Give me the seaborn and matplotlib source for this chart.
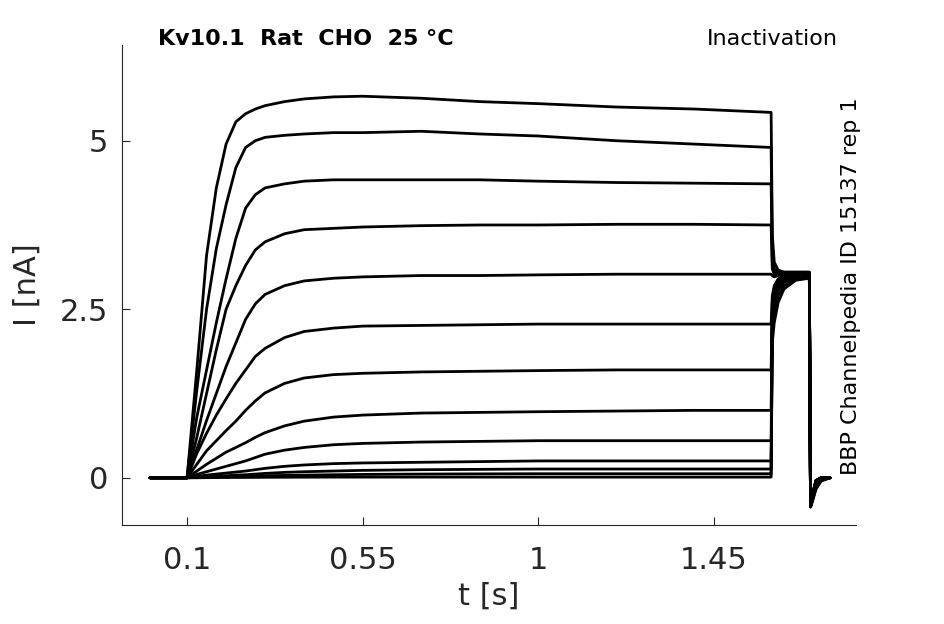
import numpy as np
import pandas as pd
import matplotlib
matplotlib.use("Agg")
import matplotlib.pyplot as plt
import seaborn as sns

# sample times (s)
t_test = [0.005, 0.1, 0.125, 0.15, 0.175, 0.2, 0.225, 0.25, 0.275, 0.3, 0.35, 0.4,
          0.475, 0.55, 0.7, 0.85, 1.0, 1.2, 1.4, 1.597]
t_step2 = [1.6, 1.605, 1.615, 1.63, 1.66, 1.695]
t_tail = [1.698, 1.703, 1.712, 1.725, 1.748]

# current (nA) during the test pulse, one row per sweep
test_na = [
    [0, 0, 1.6, 3.3, 4.3, 4.95, 5.28, 5.4, 5.47, 5.52, 5.58, 5.62, 5.65, 5.66, 5.63, 5.58, 5.55, 5.5, 5.47, 5.42],
    [0, 0, 1.3, 2.5, 3.4, 4.05, 4.6, 4.9, 5.0, 5.05, 5.08, 5.1, 5.12, 5.12, 5.14, 5.1, 5.07, 5.0, 4.95, 4.9],
    [0, 0, 0.9, 1.6, 2.3, 2.95, 3.55, 4.0, 4.2, 4.3, 4.36, 4.4, 4.42, 4.42, 4.42, 4.42, 4.4, 4.38, 4.37, 4.36],
    [0, 0, 0.6, 1.25, 1.9, 2.5, 2.85, 3.15, 3.38, 3.5, 3.62, 3.68, 3.7, 3.72, 3.74, 3.75, 3.75, 3.76, 3.76, 3.75],
    [0, 0, 0.42, 0.85, 1.25, 1.65, 2.0, 2.35, 2.58, 2.72, 2.85, 2.92, 2.96, 2.98, 3.0, 3.0, 3.01, 3.02, 3.02, 3.02],
    [0, 0, 0.36, 0.66, 0.93, 1.17, 1.4, 1.6, 1.8, 1.92, 2.08, 2.17, 2.22, 2.25, 2.26, 2.27, 2.28, 2.28, 2.28, 2.28],
    [0, 0, 0.2, 0.4, 0.55, 0.7, 0.84, 1.0, 1.14, 1.26, 1.4, 1.48, 1.53, 1.55, 1.57, 1.58, 1.59, 1.6, 1.6, 1.6],
    [0, 0, 0.1, 0.2, 0.29, 0.38, 0.45, 0.52, 0.6, 0.67, 0.77, 0.84, 0.9, 0.93, 0.96, 0.97, 0.98, 0.99, 1.0, 1.0],
    [0, 0, 0.05, 0.09, 0.13, 0.17, 0.21, 0.25, 0.3, 0.35, 0.41, 0.45, 0.49, 0.51, 0.53, 0.54, 0.55, 0.55, 0.55, 0.55],
    [0, 0, 0.02, 0.04, 0.055, 0.07, 0.085, 0.1, 0.12, 0.14, 0.17, 0.19, 0.21, 0.22, 0.23, 0.24, 0.25, 0.25, 0.25, 0.25],
    [0, 0, 0.01, 0.02, 0.025, 0.03, 0.04, 0.045, 0.055, 0.065, 0.08, 0.09, 0.1, 0.11, 0.12, 0.125, 0.13, 0.13, 0.13, 0.13],
    [0, 0, 0.005, 0.01, 0.012, 0.015, 0.018, 0.02, 0.025, 0.03, 0.035, 0.04, 0.045, 0.05, 0.055, 0.058, 0.06, 0.06, 0.06, 0.06],
    [0, 0, 0, 0.002, 0.003, 0.004, 0.005, 0.005, 0.006, 0.007, 0.008, 0.009, 0.01, 0.01, 0.01, 0.01, 0.01, 0.01, 0.01, 0.01],
]

# current (nA) during the second step
step2_na = [
    [3.6, 3.2, 3.08, 3.05, 3.05, 3.05],
    [3.4, 3.1, 3.05, 3.05, 3.05, 3.05],
    [3.2, 3.06, 3.04, 3.04, 3.04, 3.04],
    [3.1, 3.02, 3.02, 3.03, 3.03, 3.03],
    [3.0, 2.98, 3.0, 3.02, 3.02, 3.02],
    [2.7, 2.85, 2.95, 3.0, 3.02, 3.02],
    [2.6, 2.8, 2.92, 2.98, 3.0, 3.0],
    [2.5, 2.72, 2.88, 2.96, 3.0, 3.0],
    [2.45, 2.68, 2.85, 2.95, 2.99, 3.0],
    [2.4, 2.62, 2.82, 2.93, 2.98, 2.98],
    [2.35, 2.58, 2.78, 2.9, 2.97, 2.98],
    [2.2, 2.45, 2.7, 2.85, 2.95, 2.97],
    [2.0, 2.3, 2.6, 2.8, 2.93, 2.96],
]

# tail current (nA) after the step back
tail_na = [
    [-0.43, -0.25, -0.04, 0, 0],
    [-0.43, -0.25, -0.04, 0, 0],
    [-0.43, -0.25, -0.04, 0, 0],
    [-0.43, -0.25, -0.04, 0, 0],
    [-0.43, -0.26, -0.05, 0, 0],
    [-0.43, -0.26, -0.05, 0, 0],
    [-0.43, -0.27, -0.06, 0, 0],
    [-0.43, -0.28, -0.07, 0, 0],
    [-0.43, -0.29, -0.08, -0.01, 0],
    [-0.43, -0.3, -0.1, -0.02, 0],
    [-0.43, -0.32, -0.12, -0.03, 0],
    [-0.43, -0.34, -0.15, -0.04, 0],
    [-0.43, -0.35, -0.17, -0.05, 0],
]

x_ticks = [0.1, 0.55, 1, 1.45]
x_tick_labels = ["0.1", "0.55", "1", "1.45"]
y_ticks = [0, 2.5, 5]
y_tick_labels = ["0", "2.5", "5"]

t_all = t_test + t_step2 + t_tail
rows = []
for k in range(len(test_na)):
    i_all = test_na[k] + step2_na[k] + tail_na[k]
    for t, i in zip(t_all, i_all):
        rows.append({"sweep": k, "t": t, "I": i})
df = pd.DataFrame(rows)

sns.set_style("ticks")
plt.rcParams["font.family"] = ["DejaVu Sans"]

fig = plt.figure(figsize=(9.45, 6.24), dpi=100)
ax = fig.add_axes([0.129, 0.1587, 0.777, 0.7692])

sns.lineplot(data=df, x="t", y="I", units="sweep", estimator=None,
             color="black", linewidth=2.0, ax=ax, legend=False)

ax.set_xlim(-0.067, 1.815)
ax.set_ylim(-0.70, 6.42)
ax.set_xticks(x_ticks)
ax.set_xticklabels(x_tick_labels)
ax.set_yticks(y_ticks)
ax.set_yticklabels(y_tick_labels)
ax.tick_params(direction="in", length=6, width=0.8, labelsize=22)
ax.tick_params(axis="x", pad=15)
ax.tick_params(axis="y", pad=10)
ax.set_xlabel("t [s]", fontsize=22, labelpad=5)
ax.set_ylabel("I [nA]", fontsize=22, labelpad=13)
for side in ["top", "right"]:
    ax.spines[side].set_visible(False)
for side in ["left", "bottom"]:
    ax.spines[side].set_linewidth(0.8)

fig.text(158 / 945, 1 - 39 / 624, "Kv10.1  Rat  CHO  25 °C", fontsize=16,
         fontweight="bold", ha="left", va="center", color="black")
fig.text(838 / 945, 1 - 39 / 624, "Inactivation", fontsize=16,
         ha="right", va="center", color="black")
fig.text(851 / 945, 1 - 475 / 624, "BBP Channelpedia ID 15137 rep 1", fontsize=16,
         rotation=90, ha="center", va="bottom", color="black")

fig.savefig("out.png", dpi=100)
